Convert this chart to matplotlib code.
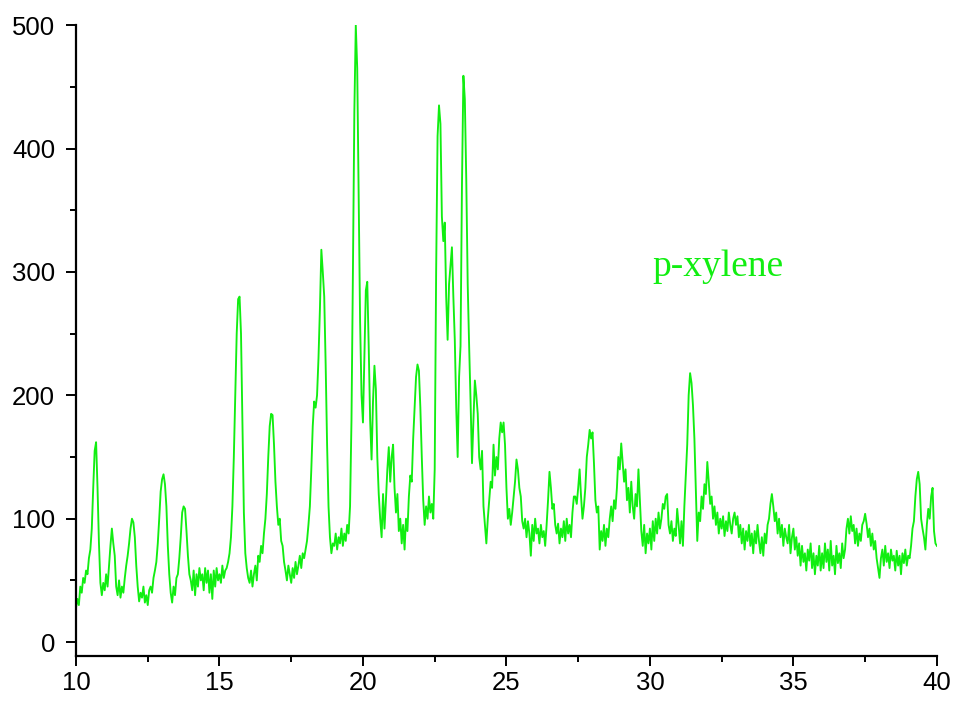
import numpy as np
import matplotlib
matplotlib.use("Agg")
import matplotlib.pyplot as plt
from matplotlib.ticker import MultipleLocator

# XRD scan settings (degrees 2-theta)
scan_start = 10.0
scan_step = 0.05

# Measured intensities, one row per degree of 2-theta (20 steps each)
intensity_10_15 = [
    28, 35, 30, 45, 40, 52, 48, 58, 55, 68, 75, 92, 125, 155, 162, 125, 80, 48, 38, 48,
    42, 55, 45, 62, 78, 92, 80, 70, 45, 38, 50, 36, 45, 40, 52, 62, 70, 80, 92, 100,
    97, 85, 62, 45, 33, 40, 36, 45, 32, 38, 30, 42, 45, 40, 52, 58, 65, 80, 100, 122,
    132, 136, 128, 110, 78, 55, 40, 32, 45, 38, 52, 55, 68, 85, 105, 110, 108, 90, 70, 55,
    50, 42, 58, 38, 55, 45, 60, 50, 55, 42, 60, 48, 58, 40, 55, 35, 58, 45, 60, 50,
]
intensity_15_20 = [
    55, 48, 62, 52, 58, 60, 65, 72, 85, 110, 150, 200, 250, 278, 280, 250, 175, 105, 72, 60,
    52, 48, 58, 45, 55, 62, 50, 70, 65, 78, 72, 88, 100, 120, 150, 175, 185, 184, 160, 130,
    110, 95, 100, 82, 78, 65, 58, 50, 62, 55, 48, 60, 52, 65, 55, 62, 70, 60, 72, 68,
    75, 82, 95, 110, 140, 175, 195, 190, 200, 230, 270, 318, 300, 280, 225, 160, 110, 85, 72, 80,
    78, 88, 75, 85, 80, 92, 78, 88, 82, 95, 88, 110, 180, 300, 430, 500, 465, 360, 260, 200,
]
intensity_20_25 = [
    178, 230, 285, 292, 240, 180, 148, 195, 224, 205, 150, 120, 100, 85, 120, 92, 115, 140, 158, 130,
    150, 160, 125, 105, 120, 90, 100, 80, 95, 75, 100, 90, 118, 135, 130, 165, 190, 215, 225, 220,
    190, 150, 115, 95, 110, 100, 118, 105, 112, 100, 140, 300, 410, 435, 420, 345, 325, 340, 280, 245,
    290, 305, 320, 280, 245, 190, 150, 215, 240, 370, 459, 440, 375, 290, 240, 195, 145, 180, 212, 200,
    185, 150, 140, 155, 110, 95, 80, 100, 115, 130, 125, 160, 135, 150, 140, 165, 178, 170, 178, 160,
]
intensity_25_30 = [
    125, 100, 108, 95, 105, 118, 130, 148, 140, 125, 118, 98, 92, 100, 85, 98, 88, 70, 95, 82,
    100, 88, 92, 80, 95, 85, 90, 78, 95, 115, 138, 125, 108, 112, 95, 88, 96, 80, 92, 85,
    98, 82, 100, 88, 95, 85, 105, 118, 118, 112, 125, 140, 118, 100, 110, 125, 150, 160, 172, 165,
    170, 145, 115, 105, 110, 75, 90, 82, 95, 78, 92, 85, 100, 110, 98, 115, 108, 125, 150, 140,
    161, 145, 130, 140, 115, 125, 105, 130, 110, 100, 120, 110, 140, 115, 90, 78, 95, 72, 88, 80,
]
intensity_30_35 = [
    92, 75, 98, 82, 100, 88, 105, 92, 100, 112, 108, 118, 120, 95, 88, 98, 82, 92, 86, 108,
    95, 80, 98, 78, 110, 135, 160, 200, 218, 210, 192, 165, 125, 82, 105, 98, 118, 108, 128, 120,
    146, 130, 112, 118, 100, 110, 95, 105, 88, 100, 92, 102, 86, 98, 90, 105, 95, 88, 100, 105,
    95, 102, 85, 95, 80, 92, 75, 90, 82, 95, 78, 88, 72, 90, 80, 95, 82, 72, 85, 70,
    88, 80, 95, 100, 112, 120, 110, 98, 105, 88, 100, 85, 95, 78, 92, 85, 80, 95, 72, 85,
]
intensity_35_40 = [
    92, 75, 85, 70, 80, 62, 78, 65, 72, 58, 75, 66, 80, 60, 72, 55, 70, 62, 78, 58,
    72, 60, 80, 65, 75, 58, 82, 62, 70, 55, 78, 64, 72, 60, 80, 68, 75, 92, 100, 88,
    102, 90, 95, 80, 92, 78, 88, 82, 95, 98, 104, 96, 85, 92, 78, 88, 75, 82, 68, 60,
    52, 68, 75, 62, 78, 65, 72, 60, 75, 66, 70, 58, 74, 62, 70, 55, 72, 64, 75, 62,
    70, 68, 78, 92, 98, 118, 132, 138, 128, 100, 92, 85, 75, 95, 108, 100, 118, 125, 90, 80,
    78,
]

x_ticks = [10, 15, 20, 25, 30, 35, 40]
y_ticks = [0, 100, 200, 300, 400, 500]
sample_label = "p-xylene"

intensity = np.array(intensity_10_15 + intensity_15_20 + intensity_20_25
                     + intensity_25_30 + intensity_30_35 + intensity_35_40, dtype=float)
two_theta = scan_start + scan_step * np.arange(intensity.size)

green = "#11ee11"

fig = plt.figure(figsize=(9.56, 7.02), dpi=100)
ax = fig.add_axes([0.0795, 0.066, 0.9005, 0.899])

ax.plot(two_theta, intensity, color=green, lw=1.35)

ax.set_xlim(10, 40)
ax.set_ylim(-11, 500.5)
ax.set_xticks(x_ticks)
ax.set_yticks(y_ticks)
ax.xaxis.set_minor_locator(MultipleLocator(2.5))
ax.yaxis.set_minor_locator(MultipleLocator(50))

for side in ("top", "right"):
    ax.spines[side].set_visible(False)
for side in ("left", "bottom"):
    ax.spines[side].set_linewidth(1.6)

ax.tick_params(which="major", direction="out", length=7, width=1.4,
               labelsize=18.5, pad=8)
ax.tick_params(axis="x", which="major", pad=4)
ax.tick_params(which="minor", direction="out", length=4, width=1.4)
for lab in ax.get_xticklabels() + ax.get_yticklabels():
    lab.set_fontfamily("Liberation Sans")

ax.text(30.1, 297, sample_label, color=green, fontsize=27,
        family="Liberation Serif", ha="left", va="baseline")

fig.savefig("out.png", dpi=100)
